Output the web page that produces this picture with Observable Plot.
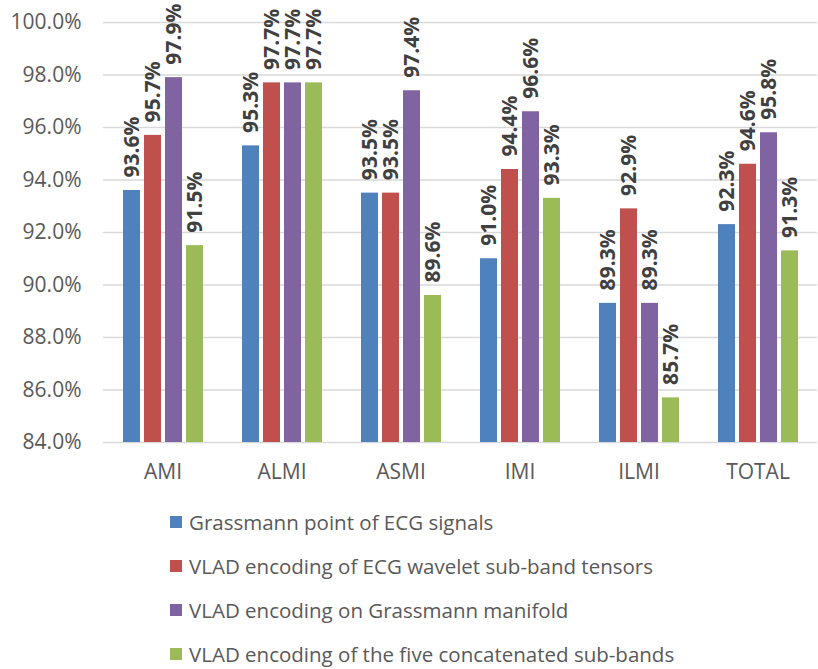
<!DOCTYPE html>
<html>
<head>
<meta charset="utf-8">
<script src="https://cdn.jsdelivr.net/npm/d3@7"></script>
<script src="https://cdn.jsdelivr.net/npm/@observablehq/plot@0.6"></script>
<style>
  body { margin: 0; background: #fff; font-family: "Open Sans", sans-serif; }
  #legend { margin-top: 5px; padding-left: 170px; color: #595959; font-size: 20.5px; }
  .row { height: 44px; display: flex; align-items: center; }
  .sw { width: 12px; height: 12px; margin-right: 7px; flex: none; }
</style>
</head>
<body>
<div id="chart"></div>
<div id="legend"></div>
<script>
const categories = ["AMI", "ALMI", "ASMI", "IMI", "ILMI", "TOTAL"];
const seriesNames = [
  "Grassmann point of ECG signals",
  "VLAD encoding of ECG wavelet sub-band tensors",
  "VLAD encoding on Grassmann manifold",
  "VLAD encoding of the five concatenated sub-bands"
];
const seriesColors = ["#4f81bd", "#c0504d", "#8064a2", "#9bbb59"];
const grassmannPoint = [93.6, 95.3, 93.5, 91.0, 89.3, 92.3];
const vladWavelet    = [95.7, 97.7, 93.5, 94.4, 92.9, 94.6];
const vladGrassmann  = [97.9, 97.7, 97.4, 96.6, 89.3, 95.8];
const vladConcat     = [91.5, 97.7, 89.6, 93.3, 85.7, 91.3];
const yMin = 84, yMax = 100;
const yTicks = [84, 86, 88, 90, 92, 94, 96, 98, 100];

const seriesValues = [grassmannPoint, vladWavelet, vladGrassmann, vladConcat];
const data = [];
categories.forEach((c, i) => {
  seriesNames.forEach((s, j) => {
    data.push({category: c, series: s, value: seriesValues[j][i]});
  });
});

const chart = Plot.plot({
  width: 818,
  height: 495,
  marginTop: 22,
  marginBottom: 53,
  marginLeft: 102,
  marginRight: 0,
  style: {fontFamily: "'Open Sans', sans-serif", fontSize: "21px", color: "#595959", background: "#fff"},
  fx: {domain: categories, padding: 0, label: null, axis: "bottom", tickSize: 0, tickPadding: 22},
  x: {domain: seriesNames, paddingInner: 0.21, paddingOuter: 0.88, axis: null},
  y: {domain: [yMin, yMax], ticks: yTicks, tickFormat: d => d.toFixed(1) + "%", label: null, tickSize: 0, tickPadding: 22},
  color: {domain: seriesNames, range: seriesColors},
  marks: [
    Plot.ruleY(yTicks, {stroke: "#d9d9d9", strokeWidth: 1.5}),
    Plot.barY(data, {fx: "category", x: "series", y1: yMin, y2: "value", fill: "series"}),
    Plot.text(data, {
      fx: "category", x: "series", y: "value",
      text: d => d.value.toFixed(1) + "%",
      rotate: -90, textAnchor: "start", dy: -13,
      fontWeight: "bold", fontSize: 21, fill: "#404040"
    })
  ]
});
document.getElementById("chart").appendChild(chart);

const legend = document.getElementById("legend");
seriesNames.forEach((s, i) => {
  const row = document.createElement("div");
  row.className = "row";
  const sw = document.createElement("span");
  sw.className = "sw";
  sw.style.background = seriesColors[i];
  const t = document.createElement("span");
  t.textContent = s;
  row.appendChild(sw);
  row.appendChild(t);
  legend.appendChild(row);
});
</script>
</body>
</html>
